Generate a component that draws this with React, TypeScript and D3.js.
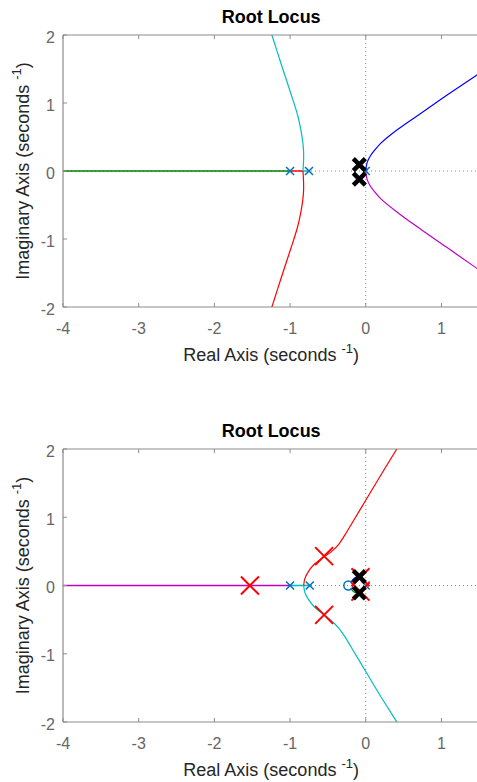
import React from 'react';
import * as d3 from 'd3';

type Pt = [number, number];

const xTicks = [-4, -3, -2, -1, 0, 1];
const yTicks = [-2, -1, 0, 1, 2];
const xDomain: Pt = [-4, 1.5];
const yDomain: Pt = [-2, 2];

// upper plot: branches (real, imag)
const topGreenAxis: Pt[] = [[-4.3, 0], [-1, 0]];
const topRedAxis: Pt[] = [[-1, 0], [-0.83, 0]];
const topCyanAxis: Pt[] = [[-0.75, 0], [-0.83, 0]];
const topCyanBranch: Pt[] = [[-0.83, 0], [-0.822, 0.15], [-0.822, 0.3], [-0.835, 0.45], [-0.86, 0.62], [-0.9, 0.82], [-0.99, 1.14], [-1.12, 1.58], [-1.24, 2.0], [-1.27, 2.1]];
const topRedBranch: Pt[] = [[-0.83, 0], [-0.822, -0.15], [-0.822, -0.3], [-0.835, -0.45], [-0.86, -0.62], [-0.9, -0.82], [-0.99, -1.14], [-1.12, -1.58], [-1.24, -2.0], [-1.27, -2.1]];
const topBlueBranch: Pt[] = [[0, 0], [0.004, 0.05], [0.02, 0.13], [0.06, 0.22], [0.12, 0.31], [0.2, 0.41], [0.42, 0.61], [0.73, 0.85], [1.08, 1.12], [1.44, 1.39], [1.6, 1.51]];
const topMagentaBranch: Pt[] = [[0, 0], [0.004, -0.05], [0.02, -0.13], [0.06, -0.22], [0.12, -0.31], [0.2, -0.41], [0.42, -0.61], [0.73, -0.86], [1.08, -1.13], [1.44, -1.41], [1.6, -1.53]];
const topPoles: Pt[] = [[-1, 0], [-0.75, 0], [0, 0]];
const topGainPoles: Pt[] = [[-0.085, 0.095], [-0.085, -0.12]];

// lower plot
const botMagentaAxis: Pt[] = [[-4.3, 0], [-1, 0]];
const botCyanAxis: Pt[] = [[-1, 0], [-0.75, 0]];
const botRedBranch: Pt[] = [[-0.82, 0], [-0.805, 0.1], [-0.76, 0.2], [-0.69, 0.3], [-0.55, 0.42], [-0.45, 0.5], [-0.36, 0.6], [-0.27, 0.75], [-0.2, 0.88], [0, 1.25], [0.2, 1.62], [0.41, 2.0], [0.47, 2.11]];
const botCyanBranch: Pt[] = [[-0.82, 0], [-0.805, -0.1], [-0.76, -0.2], [-0.69, -0.3], [-0.55, -0.43], [-0.45, -0.52], [-0.36, -0.62], [-0.27, -0.76], [-0.2, -0.89], [0, -1.26], [0.2, -1.63], [0.41, -2.0], [0.47, -2.11]];
const botBlueBranch: Pt[] = [[-0.2, 0.04], [-0.16, 0.1], [-0.1, 0.14]];
const botGreenBranch: Pt[] = [[-0.2, -0.04], [-0.16, -0.09], [-0.11, -0.11]];
const botPoles: Pt[] = [[-1, 0], [-0.74, 0], [0, 0]];
const botZeros: Pt[] = [[-0.23, 0]];
const botDesignPoles: Pt[] = [[-1.53, 0], [-0.55, 0.43], [-0.55, -0.43], [-0.07, 0.12], [-0.07, -0.09]];
const botGainPoles: Pt[] = [[-0.085, 0.13], [-0.085, -0.11]];

const BLUE = '#0000ff';
const GREEN = '#008000';
const RED = '#ff0000';
const CYAN = '#00bfbf';
const MAGENTA = '#bf00bf';
const MARK = '#0072bd';
const FONT = 'Liberation Sans, Arial, Helvetica, sans-serif';

type Branch = { pts: Pt[]; color: string; width?: number };

function RootLocus({ id, top, bottom, branches, poles, zeros = [], bigX = [], gainX }: {
    id: string; top: number; bottom: number; branches: Branch[]; poles: Pt[];
    zeros?: Pt[]; bigX?: Pt[]; gainX: Pt[];
}) {
    const left = 63, right = 479.3;
    const x = d3.scaleLinear().domain(xDomain).range([left, right]);
    const y = d3.scaleLinear().domain(yDomain).range([bottom, top]);
    const line = d3.line<Pt>().x(d => x(d[0])).y(d => y(d[1])).curve(d3.curveCatmullRom.alpha(0.5));
    const axisColor = '#8c8c8c';
    const mid = (top + bottom) / 2;

    const cross = (p: Pt, s: number) =>
        `M${x(p[0]) - s},${y(p[1]) - s}L${x(p[0]) + s},${y(p[1]) + s}M${x(p[0]) - s},${y(p[1]) + s}L${x(p[0]) + s},${y(p[1]) - s}`;

    return (
        <g>
            <defs>
                <clipPath id={id}>
                    <rect x={left} y={top} width={right - left} height={bottom - top} />
                </clipPath>
            </defs>
            <text x={(left + right) / 2} y={top - 12} textAnchor="middle" fontFamily={FONT} fontWeight="bold" fontSize={18} fill="#000">Root Locus</text>

            {/* zero grid lines */}
            <line x1={x(0)} x2={x(0)} y1={top} y2={bottom} stroke="#8c8c8c" strokeDasharray="1,3" strokeWidth={1} />
            <line x1={left} x2={right} y1={y(0)} y2={y(0)} stroke="#8c8c8c" strokeDasharray="1,3" strokeWidth={1} />

            <g clipPath={`url(#${id})`}>
                {branches.map((b, i) => (
                    <path key={i} d={line(b.pts) || ''} fill="none" stroke={b.color} strokeWidth={b.width || 1.2} />
                ))}
            </g>

            {/* box + ticks */}
            <line x1={left} x2={right} y1={top} y2={top} stroke={axisColor} strokeWidth={1.2} />
            <line x1={left} x2={right} y1={bottom} y2={bottom} stroke={axisColor} strokeWidth={1.2} />
            <line x1={left} x2={left} y1={top} y2={bottom} stroke={axisColor} strokeWidth={1.2} />
            {xTicks.map(t => (
                <g key={'x' + t}>
                    <line x1={x(t)} x2={x(t)} y1={bottom} y2={bottom - 4} stroke={axisColor} />
                    <line x1={x(t)} x2={x(t)} y1={top} y2={top + 4} stroke={axisColor} />
                    <text x={x(t)} y={bottom + 27} textAnchor="middle" fontFamily={FONT} fontSize={16} fill="#666">{t}</text>
                </g>
            ))}
            {yTicks.map(t => (
                <g key={'y' + t}>
                    <line x1={left} x2={left + 4} y1={y(t)} y2={y(t)} stroke={axisColor} />
                    <text x={55} y={y(t) + 7.5} textAnchor="end" fontFamily={FONT} fontSize={16} fill="#666">{t}</text>
                </g>
            ))}

            <text x={(left + right) / 2} y={bottom + 54} textAnchor="middle" fontFamily={FONT} fontSize={18} fill="#262626">
                Real Axis (seconds <tspan fontSize={13} dy={-8}>-1</tspan><tspan fontSize={18} dy={8}>)</tspan>
            </text>
            <text transform={`translate(29,${mid}) rotate(-90)`} textAnchor="middle" fontFamily={FONT} fontSize={18} fill="#262626">
                Imaginary Axis (seconds <tspan fontSize={13} dy={-8}>-1</tspan><tspan fontSize={18} dy={8}>)</tspan>
            </text>

            {/* open-loop poles and zeros */}
            {poles.map((p, i) => (
                <path key={'p' + i} d={cross(p, 4)} stroke={MARK} strokeWidth={1.5} fill="none" />
            ))}
            {zeros.map((p, i) => (
                <circle key={'z' + i} cx={x(p[0])} cy={y(p[1])} r={4.5} fill="none" stroke={MARK} strokeWidth={1.5} />
            ))}
            {bigX.map((p, i) => (
                <path key={'r' + i} d={cross(p, 9)} stroke={RED} strokeWidth={2} fill="none" />
            ))}
            {gainX.map((p, i) => (
                <path key={'k' + i} d={cross(p, 6)} stroke="#000" strokeWidth={4.5} fill="none" />
            ))}
        </g>
    );
}

export default function App() {
    return (
        <svg width={477} height={782} style={{ position: 'absolute', left: 0, top: 0, background: '#fff' }}>
            <rect width={477} height={782} fill="#fff" />
            <RootLocus
                id="clipTop" top={35} bottom={307}
                branches={[
                    { pts: topGreenAxis, color: GREEN, width: 1.5 },
                    { pts: topRedAxis, color: RED, width: 1.5 },
                    { pts: topCyanAxis, color: CYAN, width: 1.5 },
                    { pts: topCyanBranch, color: CYAN },
                    { pts: topRedBranch, color: RED },
                    { pts: topBlueBranch, color: BLUE },
                    { pts: topMagentaBranch, color: MAGENTA },
                ]}
                poles={topPoles}
                gainX={topGainPoles}
            />
            <RootLocus
                id="clipBot" top={449} bottom={722}
                branches={[
                    { pts: botMagentaAxis, color: MAGENTA, width: 1.6 },
                    { pts: botCyanAxis, color: CYAN, width: 1.6 },
                    { pts: botRedBranch, color: RED },
                    { pts: botCyanBranch, color: CYAN },
                    { pts: botBlueBranch, color: BLUE },
                    { pts: botGreenBranch, color: GREEN },
                ]}
                poles={botPoles}
                zeros={botZeros}
                bigX={botDesignPoles}
                gainX={botGainPoles}
            />
        </svg>
    );
}
